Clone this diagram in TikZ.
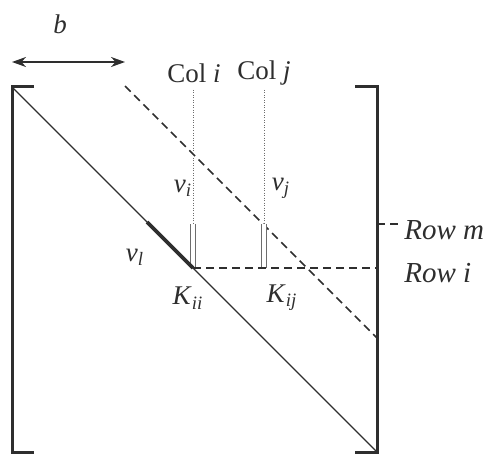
\documentclass[tikz,border=0pt]{standalone}
\usepackage{fontspec}
\setmainfont{Liberation Serif}
\usetikzlibrary{arrows.meta,calc}
\definecolor{ink}{HTML}{2E2E2E}
\newcommand{\sym}[2]{\textit{#1}\textsubscript{\textit{#2}}}

\begin{document}
\begin{tikzpicture}[x=0.5pt, y=-0.5pt, >={Stealth[length=7pt,width=5pt]},
  every node/.style={text=ink, font=\fontsize{13.5}{15}\selectfont, inner sep=0pt},
  bracket/.style={draw=ink, line width=1.5pt},
  envelope/.style={draw=ink, line width=0.75pt, dash pattern=on 4pt off 2.5pt},
  colline/.style={draw=ink!70, line width=0.35pt, dash pattern=on 0.35pt off 0.9pt},
  profile/.style={draw=ink!70, double=white, double distance=1.6pt, line width=0.5pt}]

\useasboundingbox (0,0) rectangle (490,454);

% ---------- Band width ----------
\node (b) at (60,24) {\textit{b}};
\coordinate (bl) at (12,62);
\coordinate (br) at (125,62);
\draw[ink, line width=1pt, <->] (bl) -- (br);

% ---------- Matrix brackets ----------
\coordinate (ul) at (12,87);
\coordinate (ur) at (377,87);
\coordinate (ll) at (12,452);
\coordinate (lr) at (377,452);

\draw[bracket] ($(ul)+(22,0)$) -| (ll) -- ++(22,0);
\draw[bracket] ($(ur)+(-22,0)$) -| (lr) -- ++(-22,0);

% diagonal and envelope
\draw[ink, line width=0.7pt] (ul) -- (lr);
\coordinate (et) at (125,86);
\coordinate (eb) at (377,338);
\draw[envelope] (et) -- (eb);

% ---------- Columns i and j ----------
\node (coli) at (194,73) {Col \textit{i}};
\node (colj) at (264,73) {Col \textit{j}};

\coordinate (ci) at (193,90);
\coordinate (cj) at (264,90);
\coordinate (mi) at (193,224);
\coordinate (mj) at (264,224);
\coordinate (kii) at (193,268);
\coordinate (kij) at (264,268);

\draw[colline] (ci) -- (mi);
\draw[colline] (cj) -- (mj);
\draw[profile] (mi) -- (kii);
\draw[profile] (mj) -- (kij);

% thick part of the diagonal
\coordinate (vl) at (147,222);
\draw[ink, line width=1.8pt] (vl) -- (kii);

% ---------- Rows m and i ----------
\coordinate (rm) at (377,224);
\coordinate (rme) at (400,224);
\coordinate (ri) at (377,268);
\draw[envelope] (rm) -- (rme);
\draw[envelope] (kii) -- (ri);

\node[anchor=west, font=\fontsize{14.5}{16}\selectfont] (rowm) at (404,230) {\textit{Row m}};
\node[anchor=west, font=\fontsize{14.5}{16}\selectfont] (rowi) at (404,273) {\textit{Row i}};

% ---------- Labels ----------
\node (vi) at (183,188) {\sym{v}{i}};
\node (vj) at (281,188) {\sym{v}{j}};
\node (vll) at (135,257) {\sym{v}{l}};
\node (Kii) at (188,298) {\sym{K}{ii}};
\node (Kij) at (282,298) {\sym{K}{ij}};

\end{tikzpicture}
\end{document}
